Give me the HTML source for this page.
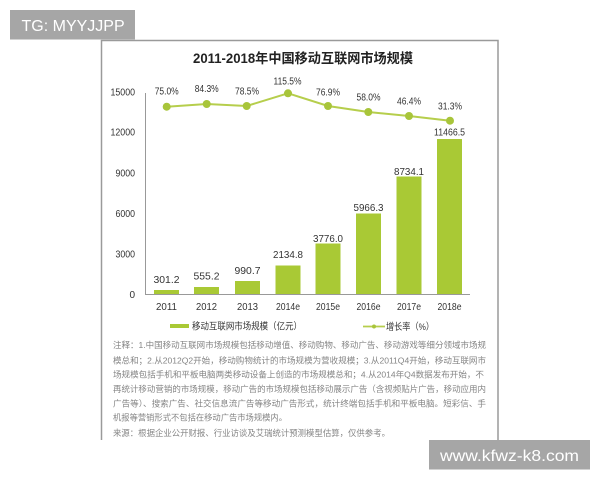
<!DOCTYPE html>
<html>
<head>
<meta charset="utf-8">
<style>
  html,body{margin:0;padding:0;background:#fff;}
  body{width:600px;height:480px;overflow:hidden;position:relative;}
  svg{position:absolute;left:0;top:0;}
  .lat{font-family:"Liberation Sans","Noto Sans CJK SC",sans-serif;}
  .cjk{font-family:"Liberation Sans","Noto Sans CJK SC",sans-serif;}
</style>
</head>
<body>
<svg width="600" height="480" viewBox="0 0 600 480" xmlns="http://www.w3.org/2000/svg">
  <rect x="0" y="0" width="600" height="480" fill="#fff"/>
  <!-- frame -->
  <path d="M101.5 440 V40.5 H498 V440" fill="none" stroke="#9a9a9a" stroke-width="1.5"/>

  <!-- title -->
  <text x="303" y="63" text-anchor="middle" class="cjk" font-size="13.5" font-weight="bold" fill="#222" textLength="220" lengthAdjust="spacingAndGlyphs">2011-2018年中国移动互联网市场规模</text>

  <!-- y axis labels -->
  <g class="lat" font-size="10" fill="#333" text-anchor="end">
    <text x="135" y="95.5" textLength="24.5" lengthAdjust="spacingAndGlyphs">15000</text>
    <text x="135" y="135.5" textLength="24.5" lengthAdjust="spacingAndGlyphs">12000</text>
    <text x="135" y="176.5" textLength="19.5" lengthAdjust="spacingAndGlyphs">9000</text>
    <text x="135" y="217" textLength="19.5" lengthAdjust="spacingAndGlyphs">6000</text>
    <text x="135" y="257.5" textLength="19.5" lengthAdjust="spacingAndGlyphs">3000</text>
    <text x="135" y="298">0</text>
  </g>

  <!-- axes -->
  <line x1="145.5" y1="93" x2="145.5" y2="294.5" stroke="#999" stroke-width="1"/>
  <line x1="145" y1="294.5" x2="470" y2="294.5" stroke="#999" stroke-width="1"/>

  <!-- bars -->
  <g fill="#a9c935">
    <rect x="154" y="290" width="25" height="4"/>
    <rect x="194" y="287" width="25" height="7"/>
    <rect x="235" y="281" width="25" height="13"/>
    <rect x="275.5" y="265.5" width="25" height="28.5"/>
    <rect x="315.5" y="243.5" width="25" height="50.5"/>
    <rect x="356" y="213.5" width="25" height="80.5"/>
    <rect x="396.5" y="176.5" width="25" height="117.5"/>
    <rect x="437" y="139" width="25" height="155"/>
  </g>

  <!-- bar value labels -->
  <g class="lat" font-size="10.5" fill="#333" text-anchor="middle">
    <text x="166.5" y="283" textLength="26" lengthAdjust="spacingAndGlyphs">301.2</text>
    <text x="206.5" y="279.5" textLength="26" lengthAdjust="spacingAndGlyphs">555.2</text>
    <text x="247.5" y="274" textLength="26" lengthAdjust="spacingAndGlyphs">990.7</text>
    <text x="288" y="258" textLength="30" lengthAdjust="spacingAndGlyphs">2134.8</text>
    <text x="328" y="242" textLength="30" lengthAdjust="spacingAndGlyphs">3776.0</text>
    <text x="368.5" y="211" textLength="30" lengthAdjust="spacingAndGlyphs">5966.3</text>
    <text x="409" y="175" textLength="30" lengthAdjust="spacingAndGlyphs">8734.1</text>
    <text x="449.5" y="135.5" textLength="31" lengthAdjust="spacingAndGlyphs">11466.5</text>
  </g>

  <!-- x labels -->
  <g class="lat" font-size="10.5" fill="#333" text-anchor="middle">
    <text x="166.5" y="310" textLength="21" lengthAdjust="spacingAndGlyphs">2011</text>
    <text x="206.5" y="310" textLength="21" lengthAdjust="spacingAndGlyphs">2012</text>
    <text x="247.5" y="310" textLength="21" lengthAdjust="spacingAndGlyphs">2013</text>
    <text x="288" y="310" textLength="24" lengthAdjust="spacingAndGlyphs">2014e</text>
    <text x="328" y="310" textLength="24" lengthAdjust="spacingAndGlyphs">2015e</text>
    <text x="368.5" y="310" textLength="24" lengthAdjust="spacingAndGlyphs">2016e</text>
    <text x="409" y="310" textLength="24" lengthAdjust="spacingAndGlyphs">2017e</text>
    <text x="449.5" y="310" textLength="24" lengthAdjust="spacingAndGlyphs">2018e</text>
  </g>

  <!-- growth line -->
  <polyline points="166.7,106.7 206.7,104 246.7,106 288,93.3 328,106 368.3,112 409,116 450,120.7" fill="none" stroke="#b6ce4c" stroke-width="2"/>
  <g fill="#a8c53a">
    <circle cx="166.7" cy="106.7" r="4"/>
    <circle cx="206.7" cy="104" r="4"/>
    <circle cx="246.7" cy="106" r="4"/>
    <circle cx="288" cy="93.3" r="4"/>
    <circle cx="328" cy="106" r="4"/>
    <circle cx="368.3" cy="112" r="4"/>
    <circle cx="409" cy="116" r="4"/>
    <circle cx="450" cy="120.7" r="4"/>
  </g>
  <g class="lat" font-size="10" fill="#333" text-anchor="middle">
    <text x="166.7" y="94.5" textLength="24" lengthAdjust="spacingAndGlyphs">75.0%</text>
    <text x="206.7" y="92" textLength="24" lengthAdjust="spacingAndGlyphs">84.3%</text>
    <text x="247" y="94.5" textLength="24" lengthAdjust="spacingAndGlyphs">78.5%</text>
    <text x="287.5" y="84.5" textLength="28" lengthAdjust="spacingAndGlyphs">115.5%</text>
    <text x="328" y="95.5" textLength="24" lengthAdjust="spacingAndGlyphs">76.9%</text>
    <text x="368.5" y="100.5" textLength="24" lengthAdjust="spacingAndGlyphs">58.0%</text>
    <text x="409" y="104.5" textLength="24" lengthAdjust="spacingAndGlyphs">46.4%</text>
    <text x="450" y="109.5" textLength="24" lengthAdjust="spacingAndGlyphs">31.3%</text>
  </g>

  <!-- legend -->
  <rect x="170" y="324" width="19" height="4" fill="#a9c935"/>
  <text x="192" y="329.5" class="cjk" font-size="9.5" fill="#333" textLength="110" lengthAdjust="spacingAndGlyphs">移动互联网市场规模（亿元）</text>
  <line x1="363" y1="326.5" x2="385" y2="326.5" stroke="#b6ce4c" stroke-width="1.8"/>
  <circle cx="374" cy="326.5" r="2" fill="#a8c53a"/>
  <text x="386" y="330" class="cjk" font-size="9.5" fill="#333" textLength="48" lengthAdjust="spacingAndGlyphs">增长率（%）</text>

  <!-- notes -->
  <g class="cjk" font-size="8.6" fill="#858585">
    <text x="113" y="348" textLength="373" lengthAdjust="spacingAndGlyphs">注释：1.中国移动互联网市场规模包括移动增值、移动购物、移动广告、移动游戏等细分领域市场规</text>
    <text x="113" y="363.5" textLength="373" lengthAdjust="spacingAndGlyphs">模总和；2.从2012Q2开始，移动购物统计的市场规模为营收规模；3.从2011Q4开始，移动互联网市</text>
    <text x="113" y="377.5" textLength="371" lengthAdjust="spacingAndGlyphs">场规模包括手机和平板电脑两类移动设备上创造的市场规模总和；4.从2014年Q4数据发布开始，不</text>
    <text x="113" y="392" textLength="373" lengthAdjust="spacingAndGlyphs">再统计移动营销的市场规模，移动广告的市场规模包括移动展示广告（含视频贴片广告，移动应用内</text>
    <text x="113" y="406.5" textLength="373" lengthAdjust="spacingAndGlyphs">广告等）、搜索广告、社交信息流广告等移动广告形式，统计终端包括手机和平板电脑。短彩信、手</text>
    <text x="113" y="420.5" textLength="174" lengthAdjust="spacingAndGlyphs">机报等营销形式不包括在移动广告市场规模内。</text>
    <text x="113" y="436" textLength="277" lengthAdjust="spacingAndGlyphs">来源：根据企业公开财报、行业访谈及艾瑞统计预测模型估算，仅供参考。</text>
  </g>

  <!-- watermark boxes -->
  <rect x="10" y="10" width="125" height="29.5" fill="#a6a6a6"/>
  <text x="21.5" y="31" class="lat" font-size="16" fill="#fff">TG: MYYJJPP</text>
  <rect x="429" y="440" width="161" height="29.5" fill="#a6a6a6"/>
  <text x="440" y="461" class="lat" font-size="16" fill="#fff" textLength="139" lengthAdjust="spacingAndGlyphs">www.kfwz-k8.com</text>
</svg>
</body>
</html>
